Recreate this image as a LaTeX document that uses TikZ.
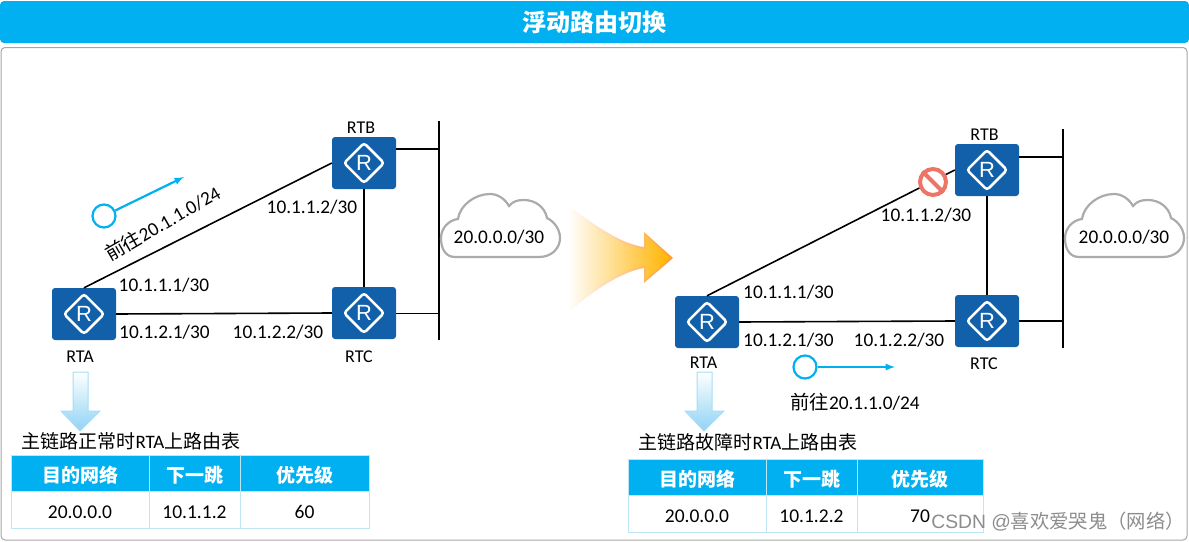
\documentclass[tikz,border=0pt]{standalone}
\usepackage{fontspec}
\setmainfont{Carlito}
\newfontfamily\cjk{Noto Sans CJK SC}
\newfontfamily\arialfont{Liberation Sans}
\usetikzlibrary{shapes.geometric}
\definecolor{titleblue}{HTML}{00B0F0}
\definecolor{routerblue}{HTML}{1160A9}
\definecolor{cellline}{HTML}{BDE6F7}
\definecolor{panelgray}{HTML}{A6A6A6}
\definecolor{cloudgray}{HTML}{ABABAB}
\definecolor{stopred}{HTML}{EE7466}
\definecolor{arrowedge}{HTML}{FF9A2E}
\definecolor{arrowfill}{HTML}{FFB400}
\definecolor{downfill}{HTML}{8FD3F5}
\definecolor{downedge}{HTML}{A8DDF5}
\newcommand{\cloudpath}{(455,257) .. controls (445,257) and (441,248) .. (441,238) .. controls (441,228) and (449,220) .. (458,219) .. controls (460,205) and (475,194) .. (490,194) .. controls (498,194) and (505,199) .. (509,206) .. controls (513,201) and (518,200) .. (524,200) .. controls (535,200) and (545,207) .. (547,218) .. controls (555,222) and (560,230) .. (560,238) .. controls (560,248) and (552,257) .. (539,257) -- cycle}
\newcommand{\downpath}{(73,372) -- (88,372) -- (88,411) -- (100,411) -- (80,431) -- (61,411) -- (73,411) -- cycle}
\tikzset{
  router/.style={rectangle,rounded corners=3pt,fill=routerblue,minimum width=64pt,minimum height=52pt,inner sep=0pt,
    path picture={\node[diamond,aspect=1,draw=white,line width=2.5pt,minimum size=41pt,inner sep=0pt,text=white,font=\arialfont\fontsize{22}{24}\selectfont] at (path picture bounding box.center) {R};}},
  iplabel/.style={font=\fontsize{19.3}{24}\selectfont},
  namelabel/.style={font=\fontsize{18}{22}\selectfont},
  caption/.style={font=\fontsize{19}{23}\selectfont},
  link/.style={line width=1.6pt},
  bus/.style={line width=1.8pt},
  cloudline/.style={draw=cloudgray,line width=2.2pt},
  flowdot/.style={circle,draw=titleblue,line width=2.2pt,minimum size=23pt,inner sep=0pt},
  flowline/.style={draw=titleblue,line width=2.2pt,-latex},
  downarrow/.style={top color=white,bottom color=downfill,draw=downedge,line width=1pt},
  headcell/.style={rectangle,draw=cellline,fill=titleblue,text=white,minimum height=36pt,inner sep=0pt,text height=18.4pt,text depth=0pt,font=\cjk\bfseries\fontsize{19}{23}\selectfont},
  bodycell/.style={rectangle,draw=cellline,fill=white,minimum height=37pt,inner sep=0pt,text height=18.4pt,text depth=0pt,font=\fontsize{19.5}{23}\selectfont},
}
\begin{document}
\begin{tikzpicture}[x=1pt,y=-1pt]
\useasboundingbox (0,0) rectangle (1189,541);
% title and panel
\node[rectangle,rounded corners=4pt,fill=titleblue,minimum width=1189pt,minimum height=42pt,inner sep=0pt,text=white,font=\cjk\bfseries\fontsize{24}{28}\selectfont] (title) at (594.5,22) {浮动路由切换};
\draw[panelgray,line width=1pt,rounded corners=4pt] (1,47.5) rectangle (1187,540);
% left network
\node[router] (lrta) at (84,314) {};
\node[router] (lrtb) at (364,163) {};
\node[router] (lrtc) at (364,313) {};
\coordinate (lbustop) at (439,121);
\coordinate (lbusend) at (439,340);
\coordinate (ltapb) at (439,149);
\coordinate (ltapc) at (439,313.5);
\draw[link] (lrta.north) -- (lrtb.west);
\draw[link] (lrta.east) -- (lrtc.west);
\draw[link] (lrtb.south) -- (lrtc.north);
\draw[link] (ltapb -| lrtb.east) -- (ltapb);
\draw[link] (ltapc -| lrtc.east) -- (ltapc);
\draw[bus] (lbustop) -- (lbusend);
\draw[cloudline] \cloudpath;
\node[iplabel] (lnet) at (499,237) {20.0.0.0/30};
\node[namelabel] (lnamea) at (80,357) {RTA};
\node[namelabel] (lnameb) at (361,128) {RTB};
\node[namelabel] (lnamec) at (359,357) {RTC};
\node[iplabel] (lipb) at (312,207) {10.1.1.2/30};
\node[iplabel] (lipa) at (164,285) {10.1.1.1/30};
\node[iplabel] (lipd) at (164.5,332) {10.1.2.1/30};
\node[iplabel] (lipc) at (278,332) {10.1.2.2/30};
\node[flowdot] (lflow) at (104,216) {};
\coordinate (lflowend) at (184,177);
\draw[flowline] (lflow) -- (lflowend);
\node[iplabel,rotate=30] (lgoto) at (162.5,223) {{\cjk 前往}20.1.1.0/24};
% table under left network
\draw[downarrow] \downpath;
\node[caption] (lcap) at (131,441) {{\cjk 主链路正常时}RTA{\cjk 上路由表}};
\node[headcell,minimum width=138pt] (lh1) at (80,473) {目的网络};
\node[headcell,minimum width=91pt] (lh2) at (194.5,473) {下一跳};
\node[headcell,minimum width=129pt] (lh3) at (304.5,473) {优先级};
\node[bodycell,minimum width=138pt] (lc1) at (80,509.5) {20.0.0.0};
\node[bodycell,minimum width=91pt] (lc2) at (194.5,509.5) {10.1.1.2};
\node[bodycell,minimum width=129pt] (lc3) at (304.5,509.5) {60};
% change-over arrow
\shade[left color=white,middle color=arrowedge!40,right color=arrowedge] (568,205) .. controls (590,222) and (620,244) .. (644,247) -- (644,232) -- (673,258) -- (644,283) -- (644,268) .. controls (620,272) and (590,293) .. (568,313) -- cycle;
\shade[left color=white,middle color=arrowfill!30,right color=arrowfill] (568,208) .. controls (590,225) and (620,247) .. (646,249.5) -- (646,236) -- (670,258) -- (646,279) -- (646,265.5) .. controls (620,269) and (590,290) .. (568,310) -- cycle;
% right network
\node[router] (rrta) at (707,322) {};
\node[router] (rrtb) at (987,170) {};
\node[router] (rrtc) at (987,321) {};
\coordinate (rbustop) at (1063,129);
\coordinate (rbusend) at (1063,348);
\coordinate (rtapb) at (1063,157);
\coordinate (rtapc) at (1063,321);
\draw[link] (rrta.north) -- (rrtb.west);
\draw[link] (rrta.east) -- (rrtc.west);
\draw[link] (rrtb.south) -- (rrtc.north);
\draw[link] (rtapb -| rrtb.east) -- (rtapb);
\draw[link] (rtapc -| rrtc.east) -- (rtapc);
\draw[bus] (rbustop) -- (rbusend);
\node[circle,draw=stopred,fill=white,line width=4pt,minimum size=26pt,inner sep=0pt] (rstop) at (933,182) {};
\draw[stopred,line width=4pt] (rstop.north west) -- (rstop.south east);
\draw[cloudline,xshift=624pt] \cloudpath;
\node[iplabel] (rnet) at (1124,237) {20.0.0.0/30};
\node[namelabel] (rnamea) at (703.5,363) {RTA};
\node[namelabel] (rnameb) at (984.5,135) {RTB};
\node[namelabel] (rnamec) at (984,364) {RTC};
\node[iplabel] (ripb) at (926,215) {10.1.1.2/30};
\node[iplabel] (ripa) at (788.5,292) {10.1.1.1/30};
\node[iplabel] (ripd) at (788.5,340) {10.1.2.1/30};
\node[iplabel] (ripc) at (899,340) {10.1.2.2/30};
\node[flowdot] (rflow) at (805,367) {};
\coordinate (rflowend) at (895,367);
\draw[flowline] (rflow) -- (rflowend);
\node[iplabel] (rgoto) at (855,402) {{\cjk 前往}20.1.1.0/24};
% table under right network
\draw[downarrow,xshift=624pt] \downpath;
\node[caption] (rcap) at (748,442) {{\cjk 主链路故障时}RTA{\cjk 上路由表}};
\node[headcell,minimum width=138pt] (rh1) at (697,477) {目的网络};
\node[headcell,minimum width=91pt] (rh2) at (811.5,477) {下一跳};
\node[headcell,minimum width=126pt] (rh3) at (920,477) {优先级};
\node[bodycell,minimum width=138pt] (rc1) at (697,513.5) {20.0.0.0};
\node[bodycell,minimum width=91pt] (rc2) at (811.5,513.5) {10.1.2.2};
\node[bodycell,minimum width=126pt] (rc3) at (920,513.5) {70};
% watermark
\node[text=black!45,font=\arialfont\fontsize{19.3}{22}\selectfont] (mark) at (1058,521.5) {CSDN @{\cjk 喜欢爱哭鬼（网络）}};
\end{tikzpicture}
\end{document}
